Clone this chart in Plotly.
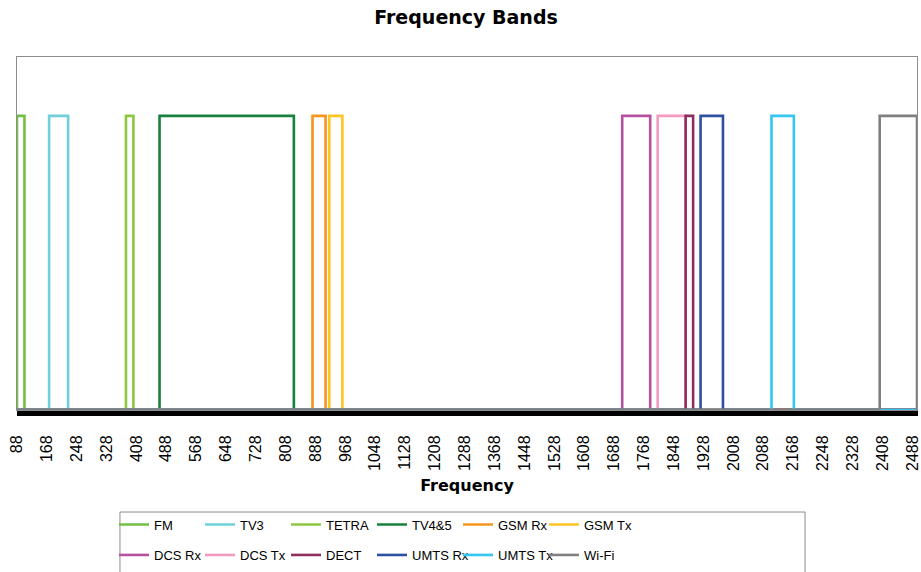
import plotly.graph_objects as go

# ---- data (MHz) ----
band_names = ["FM", "TV3", "TETRA", "TV4&5", "GSM Rx", "GSM Tx",
              "DCS Rx", "DCS Tx", "DECT", "UMTS Rx", "UMTS Tx", "Wi-Fi"]
band_start = [88, 174, 380, 470, 880, 925, 1710, 1805, 1880, 1920, 2110, 2400]
band_end = [108, 225, 400, 830, 915, 960, 1785, 1880, 1900, 1980, 2170, 2500]
band_level = [1] * 12
freq_min, freq_max = 88, 2500
tick_vals = list(range(88, 2489, 80))
tick_text = [str(v) for v in tick_vals]

colors = ["#72BF44", "#6FD0DC", "#8DC63F", "#17813D", "#F7941D", "#FDC423",
          "#B5519E", "#F49AC1", "#8E2F5E", "#2F50A1", "#33C6F3", "#808080"]

fig = go.Figure()
for i, name in enumerate(band_names):
    s, e, v = band_start[i], band_end[i], band_level[i]
    fig.add_trace(go.Scatter(
        x=[freq_min, s, s, e, e, freq_max],
        y=[0, 0, v, v, 0, 0],
        mode="lines",
        name=name,
        line=dict(color=colors[i], width=2.6),
        legend="legend" if i < 6 else "legend2",
        legendwidth=70 if i in (5, 11) else None,
    ))

legend_common = dict(
    orientation="h",
    xanchor="left",
    yanchor="top",
    xref="container",
    yref="container",
    bgcolor="rgba(0,0,0,0)",
    borderwidth=0,
    font=dict(family="Liberation Sans", size=13, color="#000000"),
    entrywidth=41,
    entrywidthmode="pixels",
    itemwidth=30,
)

fig.update_layout(
    width=921, height=572,
    margin=dict(l=17, r=4, t=57, b=162, autoexpand=False),
    paper_bgcolor="white", plot_bgcolor="white",
    title=dict(text="<b>Frequency Bands</b>", x=0.506, xanchor="center",
               xref="container", yref="container",
               y=1 - 17 / 572, yanchor="middle",
               font=dict(family="DejaVu Sans", size=19, color="#000000")),
    xaxis=dict(
        range=[freq_min, freq_max],
        automargin=False,
        tickmode="array", tickvals=tick_vals, ticktext=tick_text,
        tickangle=-90,
        tickfont=dict(family="Liberation Sans", size=16, color="#000000"),
        ticks="outside", ticklen=5, tickcolor="black", tickwidth=1,
        minor=dict(dtick=1, tick0=88, ticks="outside", ticklen=5,
                   tickcolor="black", tickwidth=1),
        ticklabelstandoff=13,
        showgrid=False, zeroline=False,
        showline=True, linecolor="#8c8c8c", linewidth=1, mirror=True,
        title=dict(text="<b>Frequency</b>", standoff=9,
                   font=dict(family="DejaVu Sans", size=16, color="#000000")),
    ),
    yaxis=dict(
        range=[0, 1.2], showticklabels=False, ticks="",
        automargin=False,
        showgrid=False, zeroline=False,
        showline=True, linecolor="#8c8c8c", linewidth=1, mirror=True,
    ),
    legend=dict(x=114 / 921, y=1 - 509.5 / 572, **legend_common),
    legend2=dict(x=114 / 921, y=1 - 540 / 572, **legend_common),
    showlegend=True,
    shapes=[dict(type="rect", xref="paper", yref="paper",
                 x0=0.1144, x1=0.8756, y0=-0.289, y1=-0.47,
                 line=dict(color="#8c8c8c", width=1), fillcolor="rgba(0,0,0,0)",
                 layer="above")],
)

fig.write_html("out.html", config={"displayModeBar": False},
               post_script="document.body.style.margin='0px';")
